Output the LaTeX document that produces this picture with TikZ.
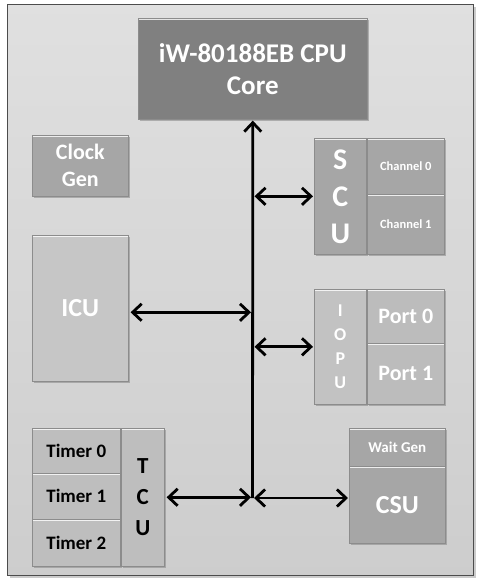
\documentclass[tikz,border=0pt]{standalone}
\usepackage{fontspec}
\setmainfont{Carlito}
\usetikzlibrary{arrows.meta,shadows}
\definecolor{bgc}{RGB}{216,216,216}
\definecolor{cpuc}{RGB}{128,128,128}
\definecolor{midc}{RGB}{166,166,166}
\definecolor{icuc}{RGB}{198,198,198}
\definecolor{iopuc}{RGB}{194,194,194}
\definecolor{portc}{RGB}{188,188,188}
\definecolor{timc}{RGB}{190,190,190}
\definecolor{edgec}{RGB}{140,140,140}
\tikzset{
  blk/.style={draw=edgec, line width=0.6pt, anchor=north west, inner sep=0pt,
    align=center, font=\bfseries, text=white,
    drop shadow={shadow xshift=1.5pt, shadow yshift=-1.5pt, fill=black!45, opacity=0.6},
    path picture={\draw[white, line width=1.6pt, opacity=0.8]
      ([yshift=-1pt]path picture bounding box.north west) -- ([yshift=-1pt]path picture bounding box.north east);}},
  arr/.style={line width=2.8pt, {Straight Barb[length=9pt,width=17pt,line width=2.8pt]}-{Straight Barb[length=9pt,width=17pt,line width=2.8pt]}},
  arrone/.style={line width=2.8pt, -{Straight Barb[length=9pt,width=17pt,line width=2.8pt]}}
}
\begin{document}
\begin{tikzpicture}[x=1pt,y=-1pt]
\useasboundingbox (0,0) rectangle (480,584);
\fill[white] (0,0) rectangle (480,584);
% outer frame
\node[draw=black!70, line width=1.2pt, top color=bgc!80!white, bottom color=bgc!95!black,
  anchor=north west, inner sep=0pt, minimum width=466pt, minimum height=571pt,
  drop shadow={shadow xshift=2pt, shadow yshift=-2pt, fill=black!40, opacity=0.5}]
  (frame) at (7,4) {};
% CPU
\node[blk, fill=cpuc, minimum width=229pt, minimum height=101pt, font=\bfseries\fontsize{27}{32}\selectfont]
  (cpu) at (138,18) {iW-80188EB CPU\\Core};
% Clock Gen
\node[blk, fill=midc, minimum width=96pt, minimum height=61pt, font=\bfseries\fontsize{22}{27}\selectfont]
  (clk) at (32,135) {Clock\\Gen};
% SCU
\node[blk, fill=midc, minimum width=52pt, minimum height=116pt, font=\bfseries\fontsize{30}{37}\selectfont]
  (scu) at (314,138) {S\\C\\U};
\node[blk, fill=midc, minimum width=77pt, minimum height=56pt, font=\bfseries\fontsize{12.5}{15}\selectfont]
  (ch0) at (367,138) {Channel 0};
\node[blk, fill=midc, minimum width=77pt, minimum height=60pt, font=\bfseries\fontsize{12.5}{15}\selectfont]
  (ch1) at (367,194) {Channel 1};
% ICU
\node[blk, fill=icuc, minimum width=96pt, minimum height=146pt, font=\bfseries\fontsize{26}{31}\selectfont]
  (icu) at (32,235) {ICU};
% IOPU
\node[blk, fill=iopuc, minimum width=52pt, minimum height=115pt, font=\bfseries\fontsize{18}{24}\selectfont]
  (iopu) at (314,289) {I\\O\\P\\U};
\node[blk, fill=portc, minimum width=77pt, minimum height=54pt, font=\bfseries\fontsize{22}{26}\selectfont]
  (p0) at (367,289) {Port 0};
\node[blk, fill=portc, minimum width=77pt, minimum height=61pt, font=\bfseries\fontsize{22}{26}\selectfont]
  (p1) at (367,343) {Port 1};
% Timers & TCU
\node[blk, fill=timc, text=black, minimum width=88pt, minimum height=45pt, font=\bfseries\fontsize{19}{23}\selectfont]
  (t0) at (32,428) {Timer 0};
\node[blk, fill=timc, text=black, minimum width=88pt, minimum height=46pt, font=\bfseries\fontsize{19}{23}\selectfont]
  (t1) at (32,473) {Timer 1};
\node[blk, fill=timc, text=black, minimum width=88pt, minimum height=47pt, font=\bfseries\fontsize{19}{23}\selectfont]
  (t2) at (32,519) {Timer 2};
\node[blk, fill=timc, text=black, minimum width=43pt, minimum height=138pt, font=\bfseries\fontsize{23}{31}\selectfont]
  (tcu) at (121,428) {T\\C\\U};
% Wait Gen & CSU
\node[blk, fill=midc, minimum width=96pt, minimum height=38pt, font=\bfseries\fontsize{15}{18}\selectfont]
  (wg) at (349,428) {Wait Gen};
\node[blk, fill=midc, minimum width=96pt, minimum height=77pt, font=\bfseries\fontsize{26}{31}\selectfont]
  (csu) at (349,466) {CSU};
% bus
\coordinate (bb) at (252.5,498);
\draw[arrone] (bb) -- ([yshift=-1pt]cpu.south);
\draw[arr] ([xshift=2pt]scu.west -| bb) -- ([xshift=-1pt]scu.west);
\draw[arr] ([xshift=2pt,yshift=-4pt]icu.east) -- ([xshift=-1.5pt,yshift=-4pt]icu.east -| bb);
\draw[arr] ([xshift=2pt]iopu.west -| bb) -- ([xshift=-1pt]iopu.west);
\draw[arr] ([xshift=2pt]tcu.east) -- ([xshift=-1.5pt]tcu.east -| bb);
\draw[arr] ([xshift=1.5pt]bb) -- ([xshift=-1pt]bb -| csu.west);
\end{tikzpicture}
\end{document}
